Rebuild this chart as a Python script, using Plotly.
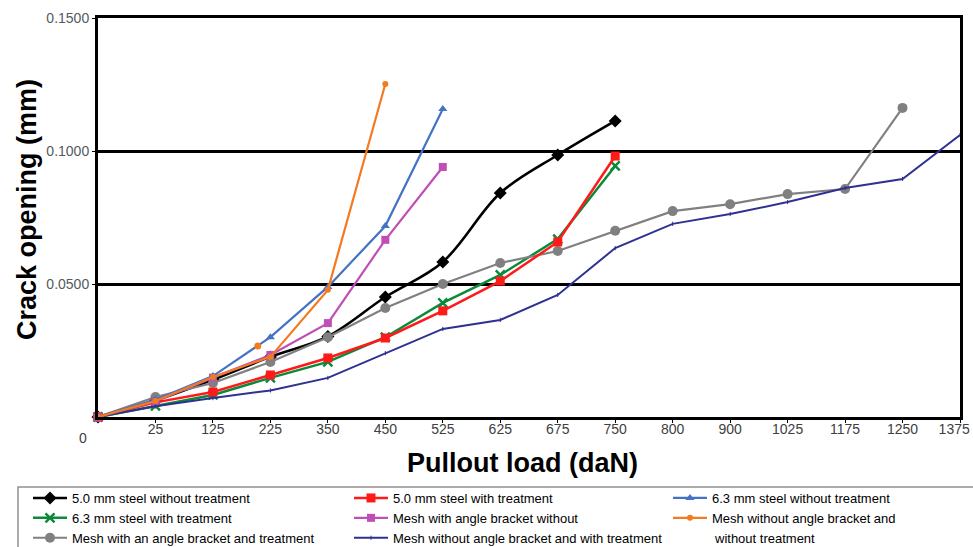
import plotly.graph_objects as go

# ---- data ----
load_labels = ["0", "25", "125", "225", "350", "450", "525", "625", "675", "750",
               "800", "900", "1025", "1175", "1250", "1375"]

steel50_no = [0, 0.0062, 0.0140, 0.0226, 0.0303, 0.0451, 0.0583, 0.0842, 0.0985, 0.1113]
steel50_tr = [0, 0.0055, 0.0094, 0.0158, 0.0222, 0.0297, 0.0399, 0.0511, 0.0658, 0.0981]
steel63_no = [0, 0.0065, 0.0154, 0.0300, 0.0489, 0.0718, 0.1158]
steel63_tr = [0, 0.0042, 0.0083, 0.0147, 0.0207, 0.0300, 0.0429, 0.0534, 0.0669, 0.0944]
mesh_ab_no = [0, 0.0058, 0.0148, 0.0233, 0.0353, 0.0666, 0.0940]
mesh_nab_no = [0, 0.0060, 0.0150, 0.0226, 0.0478, 0.1252]
mesh_ab_tr = [0, 0.0075, 0.0128, 0.0207, 0.0300, 0.0410, 0.0500, 0.0579, 0.0624, 0.0700,
              0.0774, 0.0800, 0.0838, 0.0857, 0.1162]
mesh_nab_tr = [0, 0.0040, 0.0071, 0.0100, 0.0147, 0.0240, 0.0331, 0.0365, 0.0459, 0.0635,
               0.0726, 0.0763, 0.0808, 0.0861, 0.0895, 0.1060]
# stray orange marker visible in the original near the 225 position
orange_extra_pos = [2.78]
orange_extra_val = [0.0267]

names = ["5.0 mm steel without treatment", "5.0 mm steel with treatment",
         "6.3 mm steel without treatment", "6.3 mm steel with treatment",
         "Mesh with angle bracket without", "Mesh without angle bracket and",
         "Mesh with an angle bracket and treatment",
         "Mesh without angle bracket and with treatment"]

FONT = "Liberation Sans, Arial, sans-serif"
W, H = 973, 547
L, R, T, B = 98, 13, 18, 130
PW, PH = W - L - R, H - T - B


def px_x(X):
    return (X - L) / PW


def px_y(Y):
    return (H - B - Y) / PH


fig = go.Figure()


def add(vals, name, color, symbol, msize, lw, legend, shape="linear", mline=None):
    marker = dict(symbol=symbol, size=msize, color=color)
    if mline:
        marker["line"] = dict(color=color, width=mline)
    fig.add_trace(go.Scatter(
        x=list(range(len(vals))), y=vals, name=name, mode="lines+markers",
        line=dict(color=color, width=lw, shape=shape), marker=marker,
        legend=legend, cliponaxis=False))


add(steel50_no, names[0], "#000000", "diamond", 10, 2.6, "legend", shape="spline")
add(steel63_tr, names[3], "#0A8A3A", "x-thin-open", 9, 2.5, "legend", mline=2.5)
add(mesh_ab_tr, names[6], "#808080", "circle", 10, 2.2, "legend")
add(steel50_tr, names[1], "#FF1A1A", "square", 9, 2.5, "legend2")
add(mesh_ab_no, names[4], "#C04FB5", "square", 8, 2.2, "legend2")
add(mesh_nab_tr, names[7], "#2E3192", "line-ns-open", 3, 2.0, "legend2", mline=1)
add(steel63_no, names[2], "#4472C4", "triangle-up", 8, 2.2, "legend3")
add(mesh_nab_no, names[5], "#F47A20", "circle", 6, 2.2, "legend3")
fig.add_trace(go.Scatter(x=orange_extra_pos, y=orange_extra_val, mode="markers",
                         marker=dict(symbol="circle", size=7, color="#F47A20"),
                         showlegend=False, legend="legend3"))

LEG_FONT = 13
leg_common = dict(orientation="v", xanchor="left", yanchor="top", bgcolor="rgba(0,0,0,0)",
                  borderwidth=0, font=dict(family=FONT, size=LEG_FONT, color="#000000"),
                  itemwidth=34, tracegroupgap=0, itemclick=False)
ly = px_y(483)
fig.update_layout(
    legend=dict(x=px_x(28), y=ly, **leg_common),
    legend2=dict(x=px_x(349), y=ly, **leg_common),
    legend3=dict(x=px_x(668), y=ly, **leg_common),
)

tick_text = load_labels[1:-1] + [load_labels[-1] + "\u00a0" * 3]

fig.update_layout(
    width=W, height=H,
    margin=dict(l=L, r=R, t=T, b=B, autoexpand=False),
    paper_bgcolor="white", plot_bgcolor="white",
    font=dict(family=FONT),
    xaxis=dict(range=[0, 15], tickmode="array", tickvals=list(range(1, 16)),
               ticktext=tick_text, showgrid=False, zeroline=False,
               showline=True, linecolor="black", linewidth=3, mirror=True,
               ticks="outside", ticklen=3, tickcolor="black", tickwidth=1,
               ticklabelstandoff=-6,
               automargin=False, ticklabeloverflow="allow",
               tickfont=dict(family=FONT, size=14, color="#404040")),
    yaxis=dict(range=[0, 0.15], tickmode="array", tickvals=[0.05, 0.10, 0.15],
               ticktext=["0.0500", "0.1000", "0.1500"], showgrid=True,
               gridcolor="black", gridwidth=3, zeroline=False,
               showline=True, linecolor="black", linewidth=3, mirror=True,
               ticks="outside", ticklen=3, tickcolor="black", tickwidth=1,
               automargin=False, ticklabeloverflow="allow",
               tickfont=dict(family=FONT, size=14, color="#555a60")),
    showlegend=True,
)

ann = dict(xref="paper", yref="paper", showarrow=False, xanchor="center", yanchor="middle")
fig.add_annotation(text="Crack opening (mm)", x=px_x(27), y=px_y(210), textangle=-90,
                   font=dict(family=FONT, size=27, color="black", weight="bold"), **ann)
fig.add_annotation(text="Pullout load (daN)", x=px_x(522), y=px_y(463),
                   font=dict(family=FONT, size=27, color="black", weight="bold"), **ann)
fig.add_annotation(text="0", x=px_x(83), y=px_y(438),
                   font=dict(family=FONT, size=14, color="#404040"), **ann)
fig.add_annotation(text="without treatment", x=px_x(712), y=px_y(538), xref="paper", yref="paper",
                   xanchor="left", yanchor="middle", showarrow=False,
                   font=dict(family=FONT, size=LEG_FONT, color="black"))
fig.add_shape(type="rect", xref="paper", yref="paper", x0=px_x(18), x1=px_x(975),
              y0=px_y(487), y1=px_y(549), line=dict(color="#909090", width=1.5))

fig.write_html("out.html", post_script="document.body.style.margin='0px';",
               config={"displayModeBar": False})
